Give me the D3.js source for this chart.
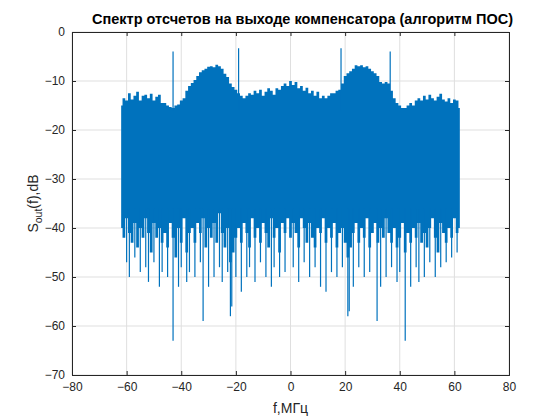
<!DOCTYPE html>
<html><head><meta charset="utf-8">
<script src="https://cdn.jsdelivr.net/npm/d3@7"></script>
<style>body{margin:0;background:#fff}svg{font-family:"Liberation Sans",Arial,sans-serif}</style>
</head><body><svg id="c" width="560" height="420"></svg>
<script>
const freqStart = -62;
const upper = [-15,-13.5,-14,-12.5,-13.8,-13,-12.2,-14,-13,-12.8,-13.5,-12.6,-14,-13.2,-12.8,-14.5,
-14.5,-15,-15.3,-15.5,-15,-14.8,-14,-13.5,-12,-11,
-10.4,-9.8,-9,-8.2,-7.8,-7.5,-7.1,-7,-7.2,-6.7,-7,-7.5,-8.5,-9.2,
-10.5,-11.2,-11.8,-12.5,-13,-13.5,-13,-12.5,-12.8,-12,
-12.5,-11.8,-13,-12.2,-11.5,-12,-12.8,-11.5,-11.8,-11,-10.5,-11,
-10,-10.8,-10.2,-11.5,-11,-12,-11.4,-12.5,-12,-13,-12.2,-13.5,-13,
-13.5,-13,-12.5,-12.5,-12,-11.8,-10.5,-9,-8.4,-8,
-7.5,-6.8,-7,-6.8,-7.2,-7,-7.5,-8,-8.4,-9,-10.2,-10.5,-10.2,-10.5,
-12,-13.5,-14.5,-15,-15.5,-15.5,-15,-14.5,-15,-14,
-13.5,-14,-13,-13.8,-12.8,-13.5,-14,-13.2,-12.6,-13.8,-14.2,-13.5,-14.5,-13.8,-14,-15.5];
const lower = [-40,-42,-38,-41,-43,-39,-44,-40,-42,-38,-41,-45,-39,-42,-40,-43,
-41,-44,-39,-42,-46,-40,-43,-38,-45,-41,
-40,-43,-39,-41,-38,-44,-40,-42,-39,-43,-37,-41,-44,-40,
-47,-45,-42,-40,-43,-39,-41,-44,-38,-42,
-40,-43,-39,-41,-44,-38,-42,-40,-45,-39,-41,-38,
-42,-39,-41,-44,-38,-40,-43,-39,-42,-44,-40,-41,-38,
-43,-40,-42,-39,-44,-41,-40,-43,-46,-44,
-41,-39,-43,-40,-42,-38,-44,-41,-39,-43,-40,-42,-38,-41,
-43,-40,-44,-42,-39,-45,-41,-43,-40,-42,
-39,-43,-41,-44,-40,-38,-42,-45,-39,-41,-43,-40,-42,-38,-41,-40];
const dipF = [-60,-59,-57,-55,-53,-52,-50,-48,-47,-45,-43,-41,-40,-38,-37,-35,-33,-32,-30,-28,-26,-25,-23,-22,-21.5,-20,-18,-16,-15,-13,-11,-9,-7,-6,-4,-2,1,3,5,7,9,11,13,15,17,19,21,21.5,23,25,27,29,31.7,33,35,37,39,40,42,44,46,47,49,51,53,55,57,59,61];
const dipV = [-47,-50,-46,-49,-48,-51,-47,-52,-49,-50,-63,-52,-48,-51,-49,-50,-47,-59,-52,-50,-48,-51,-49,-58,-56,-50,-53,-50,-48,-51,-47,-50,-52,-48,-50,-49,-48,-51,-47,-50,-48,-52,-53,-49,-50,-48,-58,-57,-52,-48,-50,-49,-59,-52,-50,-48,-51,-49,-63,-52,-48,-51,-50,-47,-50,-48,-47,-46,-45];
const peakF = [-43,-19,18.5,36.5];
const peakV = [-4,-3.3,-3.3,-4];
const xTicks = [-80,-60,-40,-20,0,20,40,60,80];
const yTicks = [-70,-60,-50,-40,-30,-20,-10,0];

const svg = d3.select("#c");
const L=72,R=509,T=32,B=375;
const x = d3.scaleLinear().domain([-80,80]).range([L,R]);
const y = d3.scaleLinear().domain([-70,0]).range([B,T]);
const col = "#0072BD";

const g = svg.append("g");
g.selectAll(".gx").data(xTicks).join("line").attr("x1",d=>x(d)).attr("x2",d=>x(d)).attr("y1",T).attr("y2",B).attr("stroke","#dfdfdf");
g.selectAll(".gy").data(yTicks).join("line").attr("y1",d=>y(d)).attr("y2",d=>y(d)).attr("x1",L).attr("x2",R).attr("stroke","#dfdfdf");

const pts = upper.map((u,i)=>({f:freqStart+i,u,l:lower[i]}));
const area = d3.area().x(d=>x(d.f)).y0(d=>y(d.l)).y1(d=>y(d.u)).curve(d3.curveStep);
g.append("path").datum(pts).attr("d",area).attr("fill",col);
g.selectAll(".dip").data(dipF).join("line").attr("x1",d=>x(d)).attr("x2",d=>x(d)).attr("y1",y(-36)).attr("y2",(d,i)=>y(dipV[i])).attr("stroke",col).attr("stroke-width",1.2);
g.selectAll(".pk").data(peakF).join("line").attr("x1",d=>x(d)).attr("x2",d=>x(d)).attr("y1",y(-16)).attr("y2",(d,i)=>y(peakV[i])).attr("stroke",col).attr("stroke-width",1.2);

svg.append("g").attr("transform",`translate(0,${B})`).call(d3.axisBottom(x).tickValues(xTicks).tickSize(-4).tickPadding(7));
svg.append("g").attr("transform",`translate(${L},0)`).call(d3.axisLeft(y).tickValues(yTicks).tickSize(-4).tickPadding(7));
svg.append("g").attr("transform",`translate(0,${T})`).call(d3.axisTop(x).tickValues(xTicks).tickSize(-4).tickFormat(""));
svg.append("g").attr("transform",`translate(${R},0)`).call(d3.axisRight(y).tickValues(yTicks).tickSize(-4).tickFormat(""));
svg.selectAll(".domain,.tick line").attr("stroke","#262626");
svg.selectAll(".tick text").attr("font-size",12).attr("fill","#262626").attr("font-family","Liberation Sans, Arial");

svg.append("text").attr("x",(L+R)/2+12).attr("y",24).attr("text-anchor","middle").attr("font-weight","bold").attr("font-size",14.5).attr("fill","#000").text("Спектр отсчетов на выходе компенсатора (алгоритм ПОС)");
svg.append("text").attr("x",(L+R)/2).attr("y",413).attr("text-anchor","middle").attr("font-size",14).attr("fill","#262626").text("f,МГц");
const yl = svg.append("text").attr("transform",`translate(38,${(T+B)/2}) rotate(-90)`).attr("text-anchor","middle").attr("font-size",14).attr("fill","#262626");
yl.append("tspan").text("S");
yl.append("tspan").attr("font-size",10.5).attr("dy",4).text("out");
yl.append("tspan").attr("dy",-4).text("(f),dB");
</script></body></html>
